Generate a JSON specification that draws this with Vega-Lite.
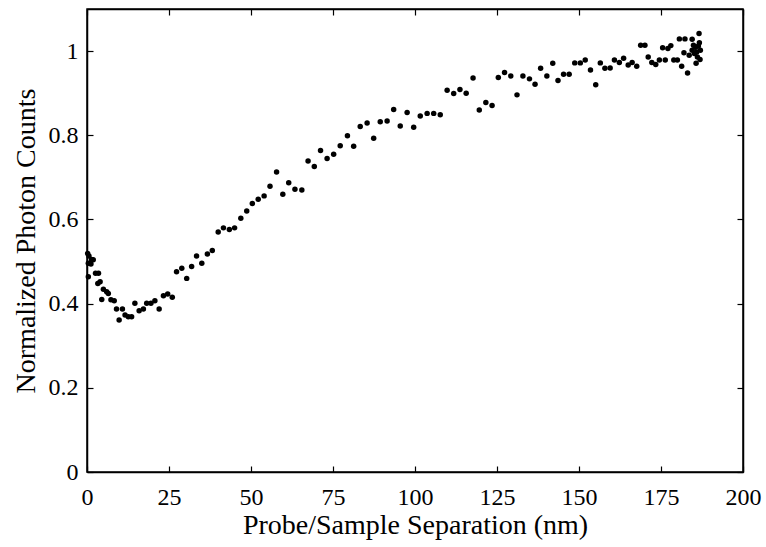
{
  "$schema": "https://vega.github.io/schema/vega-lite/v6.json",
  "width": 656,
  "height": 463,
  "autosize": {"type": "none"},
  "padding": {"left": 87, "top": 9, "right": 23, "bottom": 75},
  "background": "white",
  "config": {
    "view": {"stroke": "black", "strokeWidth": 1.5},
    "font": "Liberation Serif",
    "axis": {
      "grid": false,
      "domainColor": "black",
      "domainWidth": 1.5,
      "tickColor": "black",
      "tickWidth": 1.2,
      "tickSize": -6,
      "labelFlush": false,
      "labelOverlap": false,
      "labelFont": "Liberation Serif",
      "labelFontSize": 24,
      "labelColor": "black",
      "titleFont": "Liberation Serif",
      "titleFontSize": 28,
      "titleFontWeight": "normal",
      "titleColor": "black"
    }
  },
  "data": {
    "values": [
      {"x": 0.2, "y": 0.519}, {"x": 0.4, "y": 0.496}, {"x": 0.4, "y": 0.464}, {"x": 0.6, "y": 0.513},
      {"x": 1.2, "y": 0.494}, {"x": 1.4, "y": 0.505}, {"x": 1.9, "y": 0.504}, {"x": 2.6, "y": 0.472},
      {"x": 3.3, "y": 0.448}, {"x": 3.5, "y": 0.472}, {"x": 4.0, "y": 0.452}, {"x": 4.5, "y": 0.410},
      {"x": 5.0, "y": 0.434}, {"x": 6.0, "y": 0.428}, {"x": 6.5, "y": 0.424}, {"x": 7.3, "y": 0.409},
      {"x": 8.3, "y": 0.407}, {"x": 9.0, "y": 0.387}, {"x": 9.8, "y": 0.361}, {"x": 10.8, "y": 0.387},
      {"x": 11.6, "y": 0.373}, {"x": 12.6, "y": 0.369}, {"x": 13.6, "y": 0.369}, {"x": 14.6, "y": 0.401},
      {"x": 15.9, "y": 0.383}, {"x": 17.2, "y": 0.387}, {"x": 18.2, "y": 0.401}, {"x": 19.5, "y": 0.401},
      {"x": 20.7, "y": 0.407}, {"x": 22.0, "y": 0.387}, {"x": 23.3, "y": 0.419}, {"x": 24.6, "y": 0.423},
      {"x": 26.0, "y": 0.415}, {"x": 27.3, "y": 0.476}, {"x": 28.9, "y": 0.484}, {"x": 30.4, "y": 0.460},
      {"x": 31.9, "y": 0.488}, {"x": 33.4, "y": 0.513}, {"x": 35.0, "y": 0.496}, {"x": 36.7, "y": 0.518},
      {"x": 38.2, "y": 0.526}, {"x": 40.0, "y": 0.570}, {"x": 41.6, "y": 0.580}, {"x": 43.4, "y": 0.576},
      {"x": 45.0, "y": 0.580}, {"x": 46.9, "y": 0.603}, {"x": 48.7, "y": 0.620}, {"x": 50.4, "y": 0.638},
      {"x": 52.2, "y": 0.648}, {"x": 54.0, "y": 0.656}, {"x": 55.8, "y": 0.679}, {"x": 57.8, "y": 0.713},
      {"x": 59.7, "y": 0.660}, {"x": 61.5, "y": 0.687}, {"x": 63.4, "y": 0.672}, {"x": 65.5, "y": 0.670},
      {"x": 67.4, "y": 0.739}, {"x": 69.3, "y": 0.726}, {"x": 71.2, "y": 0.764}, {"x": 73.2, "y": 0.745},
      {"x": 75.2, "y": 0.755}, {"x": 77.2, "y": 0.775}, {"x": 79.4, "y": 0.799}, {"x": 81.3, "y": 0.774},
      {"x": 83.3, "y": 0.821}, {"x": 85.4, "y": 0.829}, {"x": 87.4, "y": 0.793}, {"x": 89.4, "y": 0.832},
      {"x": 91.5, "y": 0.834}, {"x": 93.5, "y": 0.861}, {"x": 95.5, "y": 0.822}, {"x": 97.6, "y": 0.854},
      {"x": 99.6, "y": 0.819}, {"x": 101.6, "y": 0.846}, {"x": 103.7, "y": 0.852}, {"x": 105.7, "y": 0.852},
      {"x": 107.7, "y": 0.849}, {"x": 109.8, "y": 0.907}, {"x": 111.8, "y": 0.899}, {"x": 113.7, "y": 0.909},
      {"x": 115.6, "y": 0.900}, {"x": 117.7, "y": 0.936}, {"x": 119.6, "y": 0.860}, {"x": 121.6, "y": 0.878},
      {"x": 123.5, "y": 0.871}, {"x": 125.4, "y": 0.937}, {"x": 127.3, "y": 0.949}, {"x": 129.2, "y": 0.941},
      {"x": 131.1, "y": 0.896}, {"x": 132.9, "y": 0.941}, {"x": 134.9, "y": 0.934}, {"x": 136.6, "y": 0.921},
      {"x": 138.3, "y": 0.959}, {"x": 140.2, "y": 0.941}, {"x": 142.0, "y": 0.971}, {"x": 143.6, "y": 0.930},
      {"x": 145.3, "y": 0.945}, {"x": 147.0, "y": 0.945}, {"x": 148.7, "y": 0.972}, {"x": 150.4, "y": 0.972},
      {"x": 151.9, "y": 0.979}, {"x": 153.5, "y": 0.955}, {"x": 155.1, "y": 0.920}, {"x": 156.5, "y": 0.972},
      {"x": 157.9, "y": 0.959}, {"x": 159.5, "y": 0.960}, {"x": 160.8, "y": 0.979}, {"x": 162.3, "y": 0.973},
      {"x": 163.6, "y": 0.983}, {"x": 165.0, "y": 0.967}, {"x": 166.2, "y": 0.973}, {"x": 167.6, "y": 0.964},
      {"x": 168.8, "y": 1.014}, {"x": 170.1, "y": 1.014}, {"x": 171.1, "y": 0.986}, {"x": 172.2, "y": 0.973},
      {"x": 173.4, "y": 0.968}, {"x": 174.5, "y": 0.979}, {"x": 175.5, "y": 1.008}, {"x": 176.3, "y": 0.979},
      {"x": 177.1, "y": 1.006}, {"x": 178.0, "y": 1.013}, {"x": 178.9, "y": 0.979}, {"x": 180.0, "y": 0.979},
      {"x": 180.6, "y": 1.029}, {"x": 181.3, "y": 0.964}, {"x": 182.0, "y": 0.996}, {"x": 182.3, "y": 1.029},
      {"x": 183.1, "y": 0.948}, {"x": 183.6, "y": 0.990}, {"x": 184.5, "y": 1.028}, {"x": 184.5, "y": 1.002},
      {"x": 184.9, "y": 1.014}, {"x": 185.2, "y": 0.994}, {"x": 185.5, "y": 1.009}, {"x": 185.7, "y": 0.971},
      {"x": 185.9, "y": 0.998}, {"x": 186.1, "y": 0.986}, {"x": 186.4, "y": 1.012}, {"x": 186.6, "y": 1.042},
      {"x": 186.7, "y": 1.020}, {"x": 186.9, "y": 0.980}, {"x": 187.0, "y": 1.002}
    ]
  },
  "layer": [
    {
      "mark": {"type": "point", "filled": true, "color": "black", "opacity": 1, "size": 30},
      "encoding": {
        "x": {
          "field": "x", "type": "quantitative",
          "scale": {"domain": [0, 200], "nice": false},
          "axis": {"orient": "bottom", "values": [0, 25, 50, 75, 100, 125, 150, 175, 200], "labelFont": "Liberation Serif", "labelFontSize": 24, "labelPadding": 19, "titlePadding": 2, "title": "Probe/Sample Separation (nm)"}
        },
        "y": {
          "field": "y", "type": "quantitative",
          "scale": {"domain": [0, 1.1], "nice": false, "zero": true},
          "axis": {"orient": "left", "values": [0, 0.2, 0.4, 0.6, 0.8, 1], "format": ".1~f", "labelFont": "Liberation Serif", "labelFontSize": 24, "labelPadding": 15, "titlePadding": 8, "title": "Normalized Photon Counts"}
        }
      }
    },
    {
      "mark": {"type": "point", "opacity": 0},
      "encoding": {
        "x": {
          "field": "x", "type": "quantitative",
          "axis": {"orient": "top", "values": [0, 25, 50, 75, 100, 125, 150, 175, 200], "labels": false, "title": null}
        },
        "y": {
          "field": "y", "type": "quantitative",
          "axis": {"orient": "right", "values": [0, 0.2, 0.4, 0.6, 0.8, 1], "labels": false, "title": null}
        }
      }
    }
  ],
  "resolve": {"axis": {"x": "independent", "y": "independent"}}
}
